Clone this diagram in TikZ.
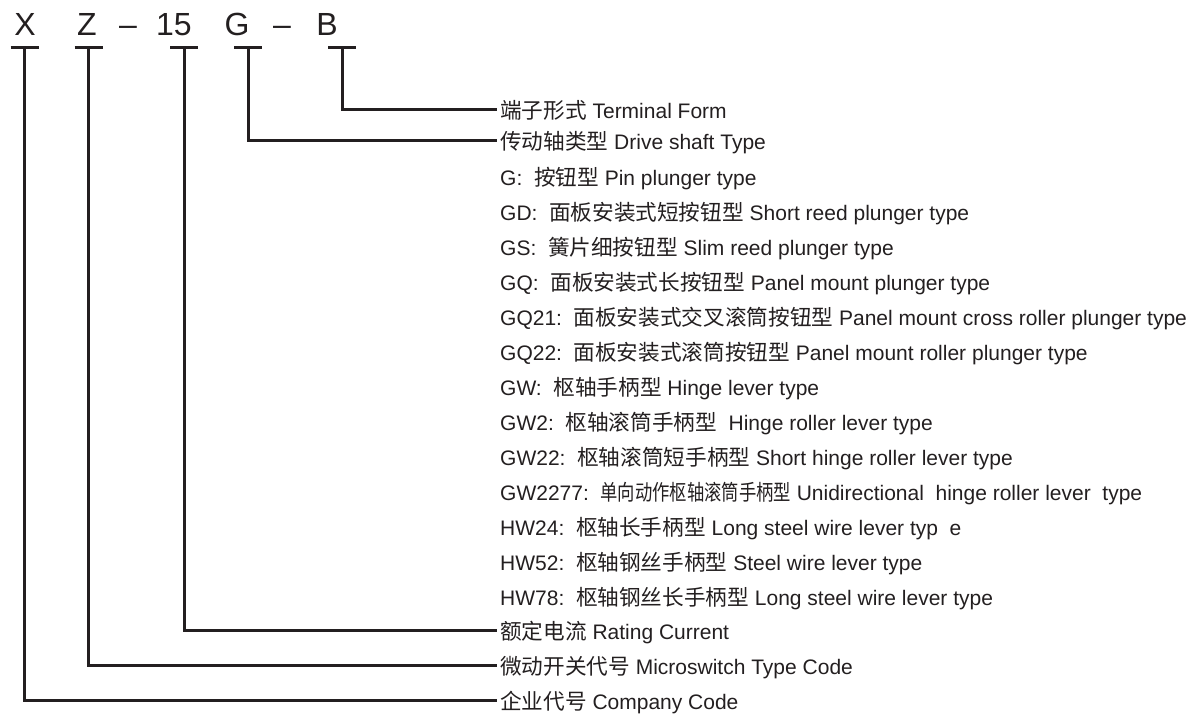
\documentclass[tikz,border=0pt]{standalone}
\usepackage{fontspec}
\setmainfont{Liberation Sans}
\newfontfamily\cjk[Scale=1.03]{Noto Sans CJK SC}
\usepackage{graphicx}
\usepackage{xcolor}
\definecolor{codeink}{RGB}{35,31,32}
\usetikzlibrary{positioning}
\newcommand{\zh}[1]{{\cjk #1}}

\begin{document}
\begin{tikzpicture}[x=1pt,y=-1pt,
  letter/.style={font=\fontsize{32}{36}\selectfont,text=codeink,inner sep=0pt,anchor=base},
  item/.style={font=\fontsize{21}{25}\selectfont,text=codeink,anchor=west,inner xsep=3pt,inner ysep=0pt,text height=19pt,text depth=0pt},
  wire/.style={draw=codeink,line width=3pt}]
  \useasboundingbox (0,0) rectangle (1197,715);
  % model code
  \node[letter] (cX) at (25,35) {X};
  \node[letter] (cZ) at (87,35) {Z};
  \node[letter] (cDashA) at (128,35) {--};
  \node[letter] (c15) at (174,35) {15};
  \node[letter] (cG) at (237,35) {G};
  \node[letter] (cDashB) at (282,35) {--};
  \node[letter] (cB) at (327,35) {B};
  % tee markers under the code
  \coordinate (tX) at (24.5,47);
  \coordinate (tZ) at (88.5,47);
  \coordinate (t15) at (184,47);
  \coordinate (tG) at (248,47);
  \coordinate (tB) at (342,47);
  \foreach \t in {tX,tZ,t15,tG,tB}
    \draw[wire] ([xshift=-14pt]\t) -- ([xshift=14pt]\t);
  % labels
  \node[item] (lB) at (497,109) {\zh{端子形式} Terminal Form};
  \node[item] (lG) at (497,140) {\zh{传动轴类型} Drive shaft Type};
  \foreach \n/\y/\txt in {
    1/176.3/{G:\ \ \zh{按钮型} Pin plunger type},
    2/211/{GD:\ \ \zh{面板安装式短按钮型} Short reed plunger type},
    3/246/{GS:\ \ \zh{簧片细按钮型} Slim reed plunger type},
    4/281.3/{GQ:\ \ \zh{面板安装式长按钮型} Panel mount plunger type},
    5/316/{GQ21:\ \ \zh{面板安装式交叉滚筒按钮型} Panel mount cross roller plunger type},
    6/351/{GQ22:\ \ \zh{面板安装式滚筒按钮型} Panel mount roller plunger type},
    7/386.3/{GW:\ \ \zh{枢轴手柄型} Hinge lever type},
    8/421/{GW2:\ \ \zh{枢轴滚筒手柄型}\ \ Hinge roller lever type},
    9/456.3/{GW22:\ \ \zh{枢轴滚筒短手柄型} Short hinge roller lever type},
    10/491.3/{GW2277:\ \ \scalebox{0.8}[1]{\zh{单向动作枢轴滚筒手柄型}} Unidirectional\ \ hinge roller lever\ \ type},
    11/526.3/{HW24:\ \ \zh{枢轴长手柄型} Long steel wire lever typ\ \ e},
    12/561.3/{HW52:\ \ \zh{枢轴钢丝手柄型} Steel wire lever type},
    13/596.3/{HW78:\ \ \zh{枢轴钢丝长手柄型} Long steel wire lever type}}
    \node[item] (sub\n) at (497,\y) {\txt};
  \node[item] (l15) at (497,630) {\zh{额定电流} Rating Current};
  \node[item] (lZ) at (497,665) {\zh{微动开关代号} Microswitch Type Code};
  \node[item] (lX) at (497,700) {\zh{企业代号} Company Code};
  % connectors
  \draw[wire] (tB) |- (lB.west);
  \draw[wire] (tG) |- (lG.west);
  \draw[wire] (t15) |- (l15.west);
  \draw[wire] (tZ) |- (lZ.west);
  \draw[wire] (tX) |- (lX.west);
\end{tikzpicture}
\end{document}
